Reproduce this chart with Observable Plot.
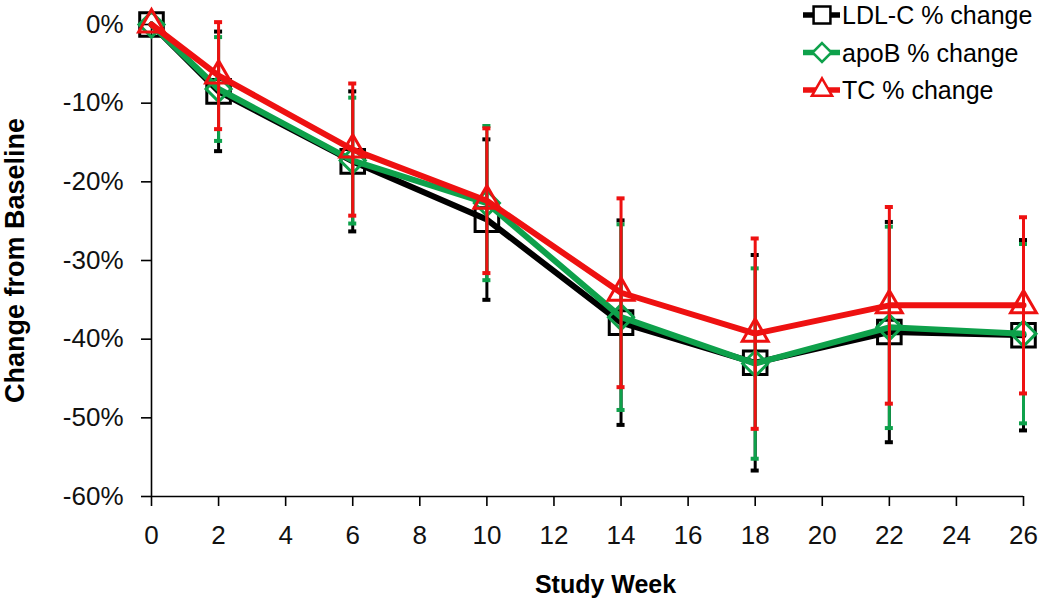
<!DOCTYPE html>
<html><head><meta charset="utf-8">
<script src="https://cdn.jsdelivr.net/npm/d3@7"></script>
<script src="https://cdn.jsdelivr.net/npm/@observablehq/plot@0.6"></script>
<style>
html,body{margin:0;padding:0;background:#fff;}
#wrap{position:relative;width:1050px;height:603px;font-family:"Liberation Sans",Arial,sans-serif;}
#legend{position:absolute;left:0;top:0;overflow:visible;}
</style></head><body><div id="wrap"></div>
<script>
// ---- data ----
const weeks = [0, 2, 6, 10, 14, 18, 22, 26];
const ldlMean  = [0, -8.5, -17.4, -24.8, -37.9, -43.0, -39.1, -39.5];
const ldlSD    = [0, 7.6, 8.9, 10.2, 13.0, 13.7, 14.0, 12.1];
const apobMean = [0, -8.2, -17.3, -22.7, -37.2, -43.1, -38.5, -39.3];
const apobSD   = [0, 6.6, 8.0, 9.8, 11.8, 12.1, 12.8, 11.4];
const tcMean   = [0, -6.5, -15.9, -22.4, -34.1, -39.3, -35.7, -35.7];
const tcSD     = [0, 6.8, 8.4, 9.2, 12.0, 12.1, 12.5, 11.2];
const seriesNames = ["LDL-C % change", "apoB % change", "TC % change"];
const yTicks = [0, -10, -20, -30, -40, -50, -60];
const xTicks = [0, 2, 4, 6, 8, 10, 12, 14, 16, 18, 20, 22, 24, 26];
const xTitle = "Study Week";
const yTitle = "Change from Baseline";

// ---- styles ----
const styles = [
  {color: "#000000", symbol: "square",   r: 13.3, lr: 9.5},
  {color: "#0ea14b", symbol: "diamond2", r: 11.3, lr: 8.5},
  {color: "#ee1111", symbol: "triangle", r: 9.6,  lr: 7.5}
];
const FONT = '"Liberation Sans", Arial, sans-serif';

const series = [
  {name: seriesNames[0], mean: ldlMean, sd: ldlSD},
  {name: seriesNames[1], mean: apobMean, sd: apobSD},
  {name: seriesNames[2], mean: tcMean, sd: tcSD}
];

const marks = [
  Plot.ruleY([-60], {stroke: "#000", strokeWidth: 1.6}),
  Plot.ruleX([0], {y1: -60, y2: 0, stroke: "#000", strokeWidth: 1.6}),
  Plot.axisY({ticks: yTicks, tickSize: 10, tickPadding: 18, tickFormat: d => d + "%",
              fontSize: 26, label: null, strokeWidth: 1.6, stroke: "#000", fill: "#111"}),
  Plot.axisX({ticks: xTicks, tickSize: 10, tickPadding: 19, tickFormat: d => String(d),
              fontSize: 26, label: null, strokeWidth: 1.6, stroke: "#000", fill: "#111"}),
  Plot.text([xTitle], {frameAnchor: "bottom", text: d => d, dy: 88, dx: 18, lineAnchor: "middle",
              textAnchor: "middle", fontSize: 25, fontWeight: "bold", fill: "#000"}),
  Plot.text([yTitle], {frameAnchor: "left", text: d => d, rotate: -90, dx: -136, dy: 0, lineAnchor: "middle",
              textAnchor: "middle", fontSize: 27, fontWeight: "bold", fill: "#000"})
];

series.forEach((s, i) => {
  const st = styles[i];
  const rows = weeks.map((w, j) => ({week: w, mean: s.mean[j], sd: s.sd[j]}));
  const bars = rows.filter(d => d.sd > 0);
  marks.push(
    Plot.ruleX(bars, {x: "week", y1: d => d.mean - d.sd, y2: d => d.mean + d.sd, stroke: st.color, strokeWidth: 3}),
    Plot.ruleY(bars, {y: d => d.mean - d.sd, x1: d => d.week - 0.12, x2: d => d.week + 0.12, stroke: st.color, strokeWidth: 4}),
    Plot.ruleY(bars, {y: d => d.mean + d.sd, x1: d => d.week - 0.12, x2: d => d.week + 0.12, stroke: st.color, strokeWidth: 4}),
    Plot.line(rows, {x: "week", y: "mean", stroke: st.color, strokeWidth: 6, strokeLinejoin: "round"}),
    Plot.dot(rows, {x: "week", y: "mean", symbol: st.symbol, r: st.r, stroke: st.color, strokeWidth: 3, fill: "none"})
  );
});

const chart = Plot.plot({
  width: 1050,
  height: 603,
  marginLeft: 151,
  marginRight: 27,
  marginTop: 24,
  marginBottom: 107,
  style: {fontFamily: FONT, color: "#000", background: "#fff", overflow: "visible"},
  x: {domain: [0, 26], axis: null},
  y: {domain: [-60, 0], axis: null},
  marks
});
const wrap = document.getElementById("wrap");
wrap.appendChild(chart);

// ---- legend (top right) ----
const lg = d3.select(wrap).append("svg").attr("id", "legend")
  .attr("width", 1050).attr("height", 130)
  .style("font-family", FONT);
const symMap = {square: d3.symbolSquare, diamond2: d3.symbolDiamond2, triangle: d3.symbolTriangle};
seriesNames.forEach((name, i) => {
  const st = styles[i];
  const cy = 15 + i * 37.5;
  const g = lg.append("g");
  g.append("line").attr("x1", 803).attr("x2", 840).attr("y1", cy).attr("y2", cy)
    .attr("stroke", st.color).attr("stroke-width", 5.5);
  g.append("path").attr("transform", `translate(822,${cy})`)
    .attr("d", d3.symbol(symMap[st.symbol], Math.PI * st.lr * st.lr)())
    .attr("fill", "#fff").attr("stroke", st.color).attr("stroke-width", 2.5);
  g.append("text").attr("x", 842).attr("y", cy).attr("dy", "0.36em")
    .attr("font-size", 25).attr("fill", "#000").text(name);
});
</script></body></html>
